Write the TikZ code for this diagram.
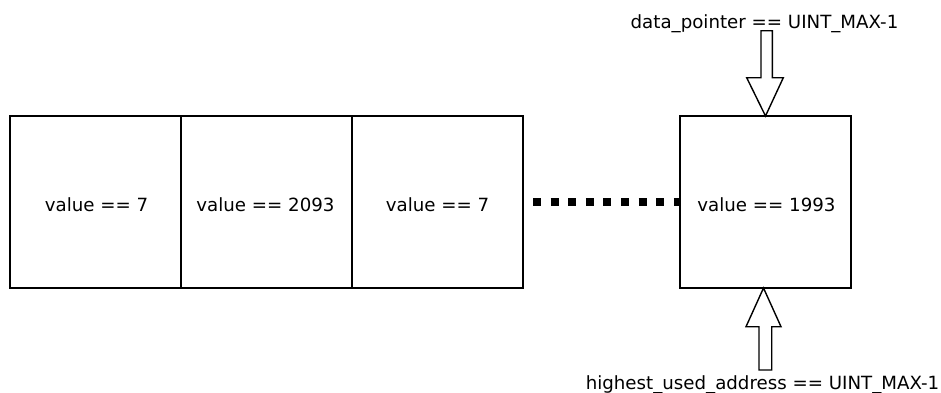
\documentclass[tikz,border=0pt]{standalone}
\usepackage{fontspec}
\setmainfont{DejaVu Sans}
\usetikzlibrary{calc}
\begin{document}
\begin{tikzpicture}[x=1pt,y=-1pt,
  cell/.style={draw=black, line width=2pt, minimum width=171pt, minimum height=172pt, inner sep=0pt, outer sep=0pt},
  celltext/.style={anchor=base, font=\fontsize{18.2}{21}\selectfont},
  labeltext/.style={anchor=base, font=\fontsize{18.2}{21}\selectfont},
  hollowarrow/.style={draw=black, fill=white, line width=1.4pt, line join=miter},
  gap/.style={line width=8pt, dash pattern=on 8pt off 9.6pt}]
  \useasboundingbox (0,0) rectangle (941,392);

  % memory cells
  \node[cell] (c1) at (95.5,202) {};
  \node[cell] (c2) at (266.5,202) {};
  \node[cell] (c3) at (437.5,202) {};
  \node[cell] (c4) at (765.5,202) {};

  \node[celltext] (t1) at (96.5,211.5) {value == 7};
  \node[celltext] (t2) at (265.5,211.5) {value == 2093};
  \node[celltext] (t3) at (437.5,211.5) {value == 7};
  \node[celltext] (t4) at (766.5,211.5) {value == 1993};

  % elided cells between the third and the last
  \coordinate (g1) at ($(c3.east)+(10,0)$);
  \coordinate (g2) at ($(c4.west)+(-1,0)$);
  \draw[gap] (g1) -- (g2);

  % pointer labels
  \node[labeltext] (dp) at (764.5,28) {data\_pointer == UINT\_MAX-1};
  \node[labeltext] (hu) at (762.5,389.5) {highest\_used\_address == UINT\_MAX-1};

  % hollow pointer arrows
  \draw[hollowarrow] (761,30.7) -- (772.3,30.7) -- (772.3,77.7) -- (783.3,77.7)
    -- (c4.north) -- (746.7,77.7) -- (761,77.7) -- cycle;
  \draw[hollowarrow] (759,370) -- (771.7,370) -- (771.7,326.7) -- (781,326.7)
    -- ([xshift=-2pt]c4.south) -- (746,326.7) -- (759,326.7) -- cycle;
\end{tikzpicture}
\end{document}
